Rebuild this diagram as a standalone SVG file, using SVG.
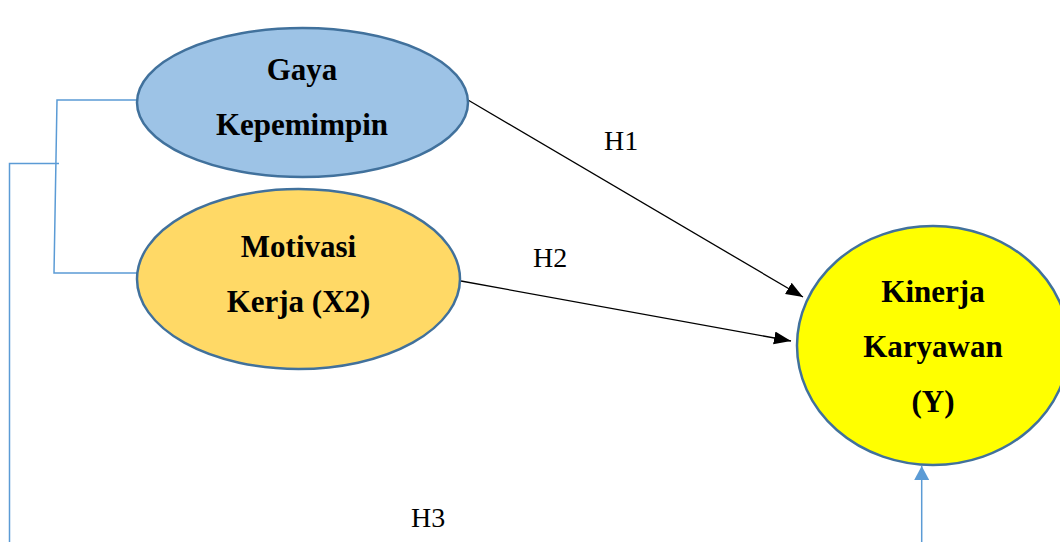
<svg xmlns="http://www.w3.org/2000/svg" width="1060" height="542" viewBox="0 0 1060 542">
<style>
.node{stroke:#41719C;stroke-width:2.5}
.lbl{font-family:"Liberation Serif","Times New Roman",serif;font-weight:bold;font-size:31px;fill:#000;text-anchor:middle}
.h{font-family:"Liberation Serif","Times New Roman",serif;font-size:28px;fill:#000}
.blk{stroke:#000;stroke-width:1.3;fill:none}
.blu{stroke:#5B9BD5;stroke-width:1.5;fill:none}
</style>
<defs>
<marker id="ah" markerUnits="userSpaceOnUse" markerWidth="18" markerHeight="14" refX="17" refY="6.5" orient="auto"><path d="M0,0 L17,6.5 L0,13 z" fill="#000"/></marker>
<marker id="ab" markerUnits="userSpaceOnUse" markerWidth="16" markerHeight="16" refX="14" refY="7.5" orient="auto"><path d="M0,0 L14,7.5 L0,15 z" fill="#5B9BD5"/></marker>
</defs>
<rect width="1060" height="542" fill="#fff"/>
<g id="connectors">
<path class="blu" d="M137,100 L57,100 L54,273 L137,273"/>
<path class="blu" d="M59,163.5 L9.5,163.5 L9.5,542"/>
<line class="blu" x1="921.7" y1="542" x2="921.7" y2="466" marker-end="url(#ab)"/>
<line class="blk" x1="468" y1="100" x2="803" y2="297" marker-end="url(#ah)"/>
<line class="blk" x1="461" y1="281" x2="791" y2="341" marker-end="url(#ah)"/>
<text class="h" x="604" y="150">H1</text>
<text class="h" x="533" y="267">H2</text>
<text class="h" x="411" y="527">H3</text>
</g>
<g id="gaya">
<ellipse class="node" cx="302.5" cy="102.5" rx="165.5" ry="74.5" fill="#9DC3E6"/>
<text class="lbl" x="302" y="80">Gaya</text>
<text class="lbl" x="302" y="135">Kepemimpin</text>
</g>
<g id="motivasi">
<ellipse class="node" cx="298.5" cy="279" rx="161.5" ry="90" fill="#FFD966"/>
<text class="lbl" x="298.5" y="257">Motivasi</text>
<text class="lbl" x="298.5" y="312">Kerja (X2)</text>
</g>
<g id="kinerja">
<ellipse class="node" cx="933" cy="345.5" rx="136" ry="119.5" fill="#FFFF00"/>
<text class="lbl" x="933" y="302">Kinerja</text>
<text class="lbl" x="933" y="357">Karyawan</text>
<text class="lbl" x="933" y="412">(Y)</text>
</g>
</svg>
